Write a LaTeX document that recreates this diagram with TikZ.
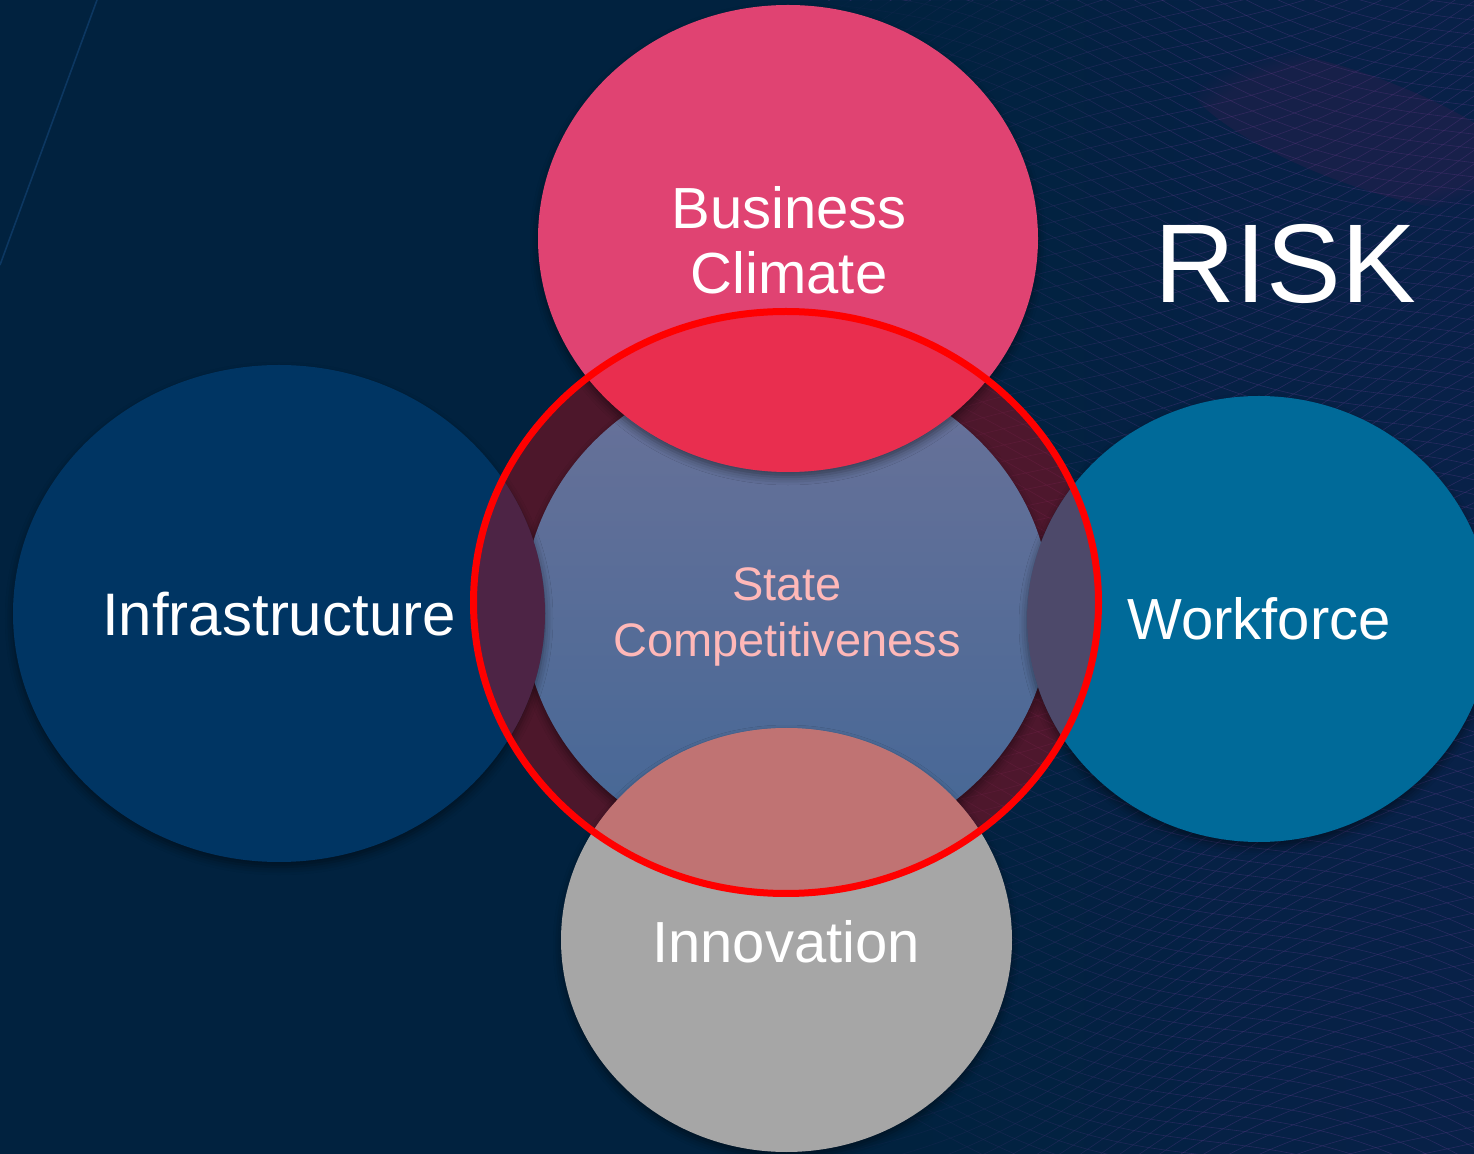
\documentclass[tikz,border=0pt]{standalone}
\usepackage{fontspec}
\setmainfont{Liberation Sans}
\usetikzlibrary{shadows.blur,fadings}

\definecolor{bgnavy}{RGB}{1,34,63}
\definecolor{bgright}{RGB}{8,33,72}
\definecolor{meshcol}{RGB}{70,52,120}
\definecolor{hazecol}{RGB}{110,30,90}
\definecolor{streak}{RGB}{20,70,120}
\definecolor{infracol}{RGB}{0,53,99}
\definecolor{workcol}{RGB}{0,106,153}
\definecolor{bizcol}{RGB}{224,67,114}
\definecolor{innocol}{RGB}{166,166,166}
\definecolor{coretop}{RGB}{106,114,153}
\definecolor{corebot}{RGB}{68,103,150}
\definecolor{coretext}{RGB}{255,184,184}
\definecolor{ringred}{RGB}{255,0,0}

\tikzset{
  bubble/.style={blur shadow={shadow xshift=0pt, shadow yshift=-2.5pt,
      shadow blur radius=4pt, shadow opacity=45}},
  tint/.style={fill=ringred, fill opacity=0.3},
  biglabel/.style={text=white, align=center,
      font=\fontsize{29}{32.5}\selectfont},
}

\begin{document}
\begin{tikzpicture}[x=0.5pt,y=-0.5pt]
\useasboundingbox (0,0) rectangle (1474,1154);

% ---------- background ----------
\begin{scope}
  \clip (0,0) rectangle (1474,1154);
  \fill[bgnavy] (0,0) rectangle (1474,1154);
  \shade[left color=bgnavy, right color=bgright] (700,0) rectangle (1474,1154);

  % wavy wire mesh on the right
  \begin{scope}[draw=meshcol, line width=0.3pt, opacity=0.5]
    \foreach \k in {-12,...,92}{
      \draw plot[domain=820:1474, samples=28, smooth]
        (\x, {-300 + \k*15 + 0.35*(\x-820) + 22*sin(\x*0.6 + \k*2)});
    }
    \foreach \k in {0,...,125}{
      \draw plot[domain=820:1474, samples=28, smooth]
        (\x, {-420 + \k*15 - 0.45*(\x-820) + 28*sin(\x*0.5 + \k*3)});
    }
  \end{scope}
  % let the mesh fade out towards the left
  \fill[bgnavy, path fading=east] (800,0) rectangle (1200,1154);
  \fill[bgnavy] (0,0) rectangle (800,1154);

  % faint purple glow near the top right
  \fill[hazecol, opacity=0.16, path fading=circle with fuzzy edge 20 percent, rotate around={-20:(1360,130)}]
    (1360,130) ellipse [x radius=190, y radius=55];

  % thin light streak in the top left corner
  \draw[streak, line width=0.8pt, opacity=0.6] (97,0) -- (0,265);
\end{scope}

% ---------- red zone tint over the background ----------
\fill[tint] (786,602.5) ellipse [x radius=312.5, y radius=291];

% ---------- central ellipse ----------
\shade[bubble, top color=coretop, bottom color=corebot]
  (787,610) ellipse [x radius=264, y radius=247];

% ---------- outer ellipses ----------
\fill[bubble, infracol] (279,613.5) ellipse [x radius=266, y radius=248.5];
\fill[bubble, workcol]  (1259,619) ellipse [x radius=232, y radius=223];
\fill[bubble, bizcol]   (788,238.5) ellipse [x radius=250, y radius=233.5];
\fill[bubble, innocol]  (786.5,940) ellipse [x radius=225.5, y radius=212];

% ---------- red tint where the outer ellipses enter the red zone ----------
\begin{scope}
  \clip (786,602.5) ellipse [x radius=312.5, y radius=291];
  \fill[tint] (279,613.5) ellipse [x radius=266, y radius=248.5];
  \fill[tint] (1259,619) ellipse [x radius=232, y radius=223];
  \fill[tint] (788,238.5) ellipse [x radius=250, y radius=233.5];
  \fill[tint] (786.5,940) ellipse [x radius=225.5, y radius=212];
\end{scope}

% ---------- red ring ----------
\draw[ringred, line width=3.5pt] (786,602.5) ellipse [x radius=312.5, y radius=291];

% ---------- labels ----------
\node[biglabel] (biz)   at (789,240) {Business\\Climate};
\node[biglabel, font=\fontsize{30}{33}\selectfont] (infra) at (279,614) {Infrastructure};
\node[biglabel] (work)  at (1259,619) {Workforce};
\node[biglabel] (inno)  at (786,942) {Innovation};
\node[text=coretext, align=center, font=\fontsize{23.5}{28}\selectfont]
  (core) at (787,617) {State\\Competitiveness};
\node[text=white, font=\fontsize{56}{60}\selectfont] (risk) at (1285,264) {RISK};

\end{tikzpicture}
\end{document}
